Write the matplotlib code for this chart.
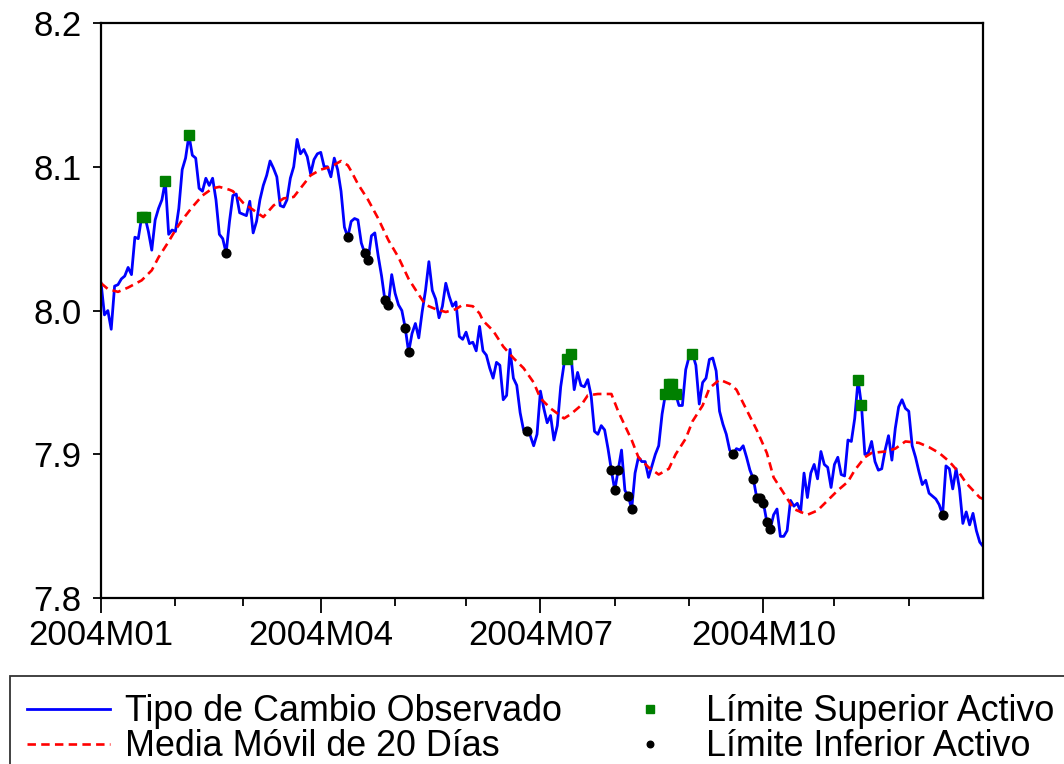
import numpy as np
import pandas as pd
import matplotlib
matplotlib.use("Agg")
import matplotlib.pyplot as plt

plt.rcParams['font.family'] = ['Liberation Sans', 'DejaVu Sans']

# tipo de cambio observado, dias habiles 2004
tipo_cambio = [
    8.019, 7.997, 8.000, 7.987, 8.017, 8.018, 8.022, 8.024, 8.030, 8.025,
    8.051, 8.050, 8.065, 8.065, 8.055, 8.042, 8.063, 8.071, 8.077, 8.090,
    8.053, 8.056, 8.055, 8.071, 8.098, 8.106, 8.122, 8.108, 8.106, 8.085,
    8.083, 8.092, 8.087, 8.092, 8.077, 8.053, 8.050, 8.040, 8.062, 8.080,
    8.081, 8.068, 8.067, 8.066, 8.076, 8.054, 8.062, 8.077, 8.087, 8.094,
    8.104, 8.099, 8.093, 8.073, 8.072, 8.077, 8.092, 8.100, 8.119, 8.109,
    8.112, 8.107, 8.095, 8.105, 8.109, 8.110, 8.100, 8.100, 8.093, 8.106,
    8.098, 8.083, 8.058, 8.051, 8.062, 8.064, 8.063, 8.047, 8.040, 8.035,
    8.052, 8.054, 8.038, 8.024, 8.007, 8.004, 8.025, 8.012, 8.004, 8.000,
    7.988, 7.971, 7.984, 7.991, 7.981, 7.999, 8.014, 8.034, 8.014, 8.008,
    7.995, 8.003, 8.019, 8.010, 8.003, 8.006, 7.982, 7.980, 7.985, 7.977,
    7.978, 7.972, 7.989, 7.972, 7.969, 7.960, 7.953, 7.964, 7.962, 7.938,
    7.941, 7.973, 7.953, 7.948, 7.929, 7.917, 7.916, 7.913, 7.906, 7.914,
    7.944, 7.932, 7.922, 7.927, 7.910, 7.920, 7.947, 7.963, 7.966, 7.970,
    7.945, 7.957, 7.948, 7.947, 7.952, 7.941, 7.916, 7.914, 7.920, 7.917,
    7.904, 7.889, 7.875, 7.889, 7.903, 7.875, 7.871, 7.862, 7.887, 7.898,
    7.895, 7.895, 7.884, 7.892, 7.900, 7.906, 7.928, 7.942, 7.949, 7.949,
    7.942, 7.934, 7.934, 7.959, 7.968, 7.970, 7.962, 7.935, 7.950, 7.953,
    7.966, 7.967, 7.958, 7.930, 7.921, 7.914, 7.903, 7.900, 7.904, 7.903,
    7.906, 7.898, 7.889, 7.883, 7.870, 7.870, 7.866, 7.853, 7.848, 7.858,
    7.862, 7.843, 7.843, 7.847, 7.868, 7.864, 7.866, 7.860, 7.887, 7.870,
    7.887, 7.893, 7.883, 7.902, 7.893, 7.891, 7.877, 7.893, 7.898, 7.886,
    7.885, 7.910, 7.909, 7.925, 7.952, 7.934, 7.900, 7.901, 7.909, 7.895,
    7.889, 7.890, 7.903, 7.913, 7.896, 7.918, 7.933, 7.938, 7.932, 7.930,
    7.906, 7.898, 7.888, 7.879, 7.882, 7.873, 7.871, 7.869, 7.865, 7.858,
    7.892, 7.890, 7.876, 7.890, 7.876, 7.852, 7.860, 7.851, 7.859, 7.847,
    7.839, 7.836,
]

# media movil de 20 dias (dia habil, valor)
ma_dia = [0, 2, 5, 8, 12, 15, 17, 20, 22, 24, 27, 30, 33, 35, 38, 39, 42, 45,
          48, 51, 54, 57, 59, 62, 65, 68, 71, 73, 74, 76, 79, 82, 85, 88, 91,
          94, 96, 99, 102, 105, 107, 110, 112, 113, 116, 119, 122, 125, 128,
          130, 133, 137, 139, 142, 144, 147, 151, 153, 155, 157, 159, 162, 165,
          168, 170, 173, 175, 178, 180, 183, 186, 188, 191, 194, 197, 199, 202,
          205, 209, 212, 215, 218, 221, 223, 226, 228, 232, 235, 238, 242, 245,
          248, 251, 254, 256, 258, 260, 261]
ma_valor = [8.019, 8.015, 8.013, 8.016, 8.021, 8.028, 8.037, 8.048, 8.056,
            8.063, 8.072, 8.080, 8.085, 8.086, 8.084, 8.083, 8.075, 8.070,
            8.065, 8.073, 8.078, 8.079, 8.085, 8.094, 8.098, 8.100, 8.104,
            8.101, 8.097, 8.088, 8.077, 8.064, 8.049, 8.037, 8.022, 8.011,
            8.004, 8.001, 7.999, 8.001, 8.004, 8.003, 7.998, 7.993, 7.986,
            7.975, 7.967, 7.960, 7.950, 7.939, 7.932, 7.925, 7.928, 7.934,
            7.941, 7.942, 7.942, 7.930, 7.920, 7.910, 7.898, 7.891, 7.886,
            7.890, 7.900, 7.911, 7.923, 7.934, 7.946, 7.952, 7.949, 7.945,
            7.931, 7.917, 7.901, 7.884, 7.873, 7.862, 7.858, 7.861, 7.868,
            7.875, 7.881, 7.889, 7.898, 7.901, 7.902, 7.904, 7.909, 7.908,
            7.905, 7.901, 7.895, 7.887, 7.880, 7.875, 7.870, 7.869]

# dias en que la banda esta activa
dias_sup = [12, 13, 19, 26, 138, 139, 167, 168, 169, 170, 175, 224, 225]
dias_inf = [37, 73, 78, 79, 84, 85, 90, 91, 126, 151, 152, 153, 156, 157,
            187, 193, 194, 195, 196, 197, 198, 249]

etiquetas_y = [7.8, 7.9, 8.0, 8.1, 8.2]

fechas = pd.bdate_range("2004-01-01", "2004-12-31")
obs = np.arange(len(fechas))
tc = np.array(tipo_cambio)

# primer dia habil de cada mes
inicio_mes = [i for i in range(len(fechas)) if i == 0 or fechas[i].month != fechas[i - 1].month]
trimestres = [i for i in inicio_mes if fechas[i].month in (1, 4, 7, 10)]
nombres = ["%dM%02d" % (fechas[i].year, fechas[i].month) for i in trimestres]

fig = plt.figure(figsize=(10.64, 7.64), dpi=100)
ax = fig.add_axes([0.095, 0.217, 0.829, 0.753])

l1, = ax.plot(obs, tc, color='#0000FF', lw=2.0)
l2, = ax.plot(ma_dia, ma_valor, color='#FF0000', lw=1.9, ls=(0, (3.2, 2.0)))
l3, = ax.plot(dias_sup, tc[dias_sup], 's', color='#008000', ms=7.2, mec='#008000', ls='none')
l4, = ax.plot(dias_inf, tc[dias_inf], 'o', color='black', ms=6.3, ls='none')

ax.set_xlim(0, len(fechas) - 1)
ax.set_ylim(7.8, 8.2)
ax.set_yticks(etiquetas_y)
ax.set_yticklabels(["%.1f" % v for v in etiquetas_y])
ax.set_xticks(trimestres)
ax.set_xticklabels(nombres)
ax.set_xticks(inicio_mes, minor=True)

ax.tick_params(axis='both', labelsize=25, width=1.3, color='black', direction='out')
ax.tick_params(axis='y', length=6, pad=8)
ax.tick_params(axis='x', which='major', length=11, pad=4)
ax.tick_params(axis='x', which='minor', length=6, width=1.3)
for s in ax.spines.values():
    s.set_linewidth(1.6)
    s.set_color('black')

leg = fig.legend([l1, l2, l3, l4],
                 ["Tipo de Cambio Observado", "Media Móvil de 20 Días",
                  "Límite Superior Activo", "Límite Inferior Activo"],
                 ncol=2, loc='upper left', bbox_to_anchor=(0.009, 0.115),
                 borderaxespad=0.0, fontsize=25.8, frameon=True, fancybox=False,
                 handlelength=2.3, handletextpad=0.42, columnspacing=1.3,
                 labelspacing=0.0, borderpad=0.5, markerscale=0.75)
leg.get_frame().set_edgecolor('black')
leg.get_frame().set_linewidth(1.3)

fig.savefig("out.png", dpi=100)
